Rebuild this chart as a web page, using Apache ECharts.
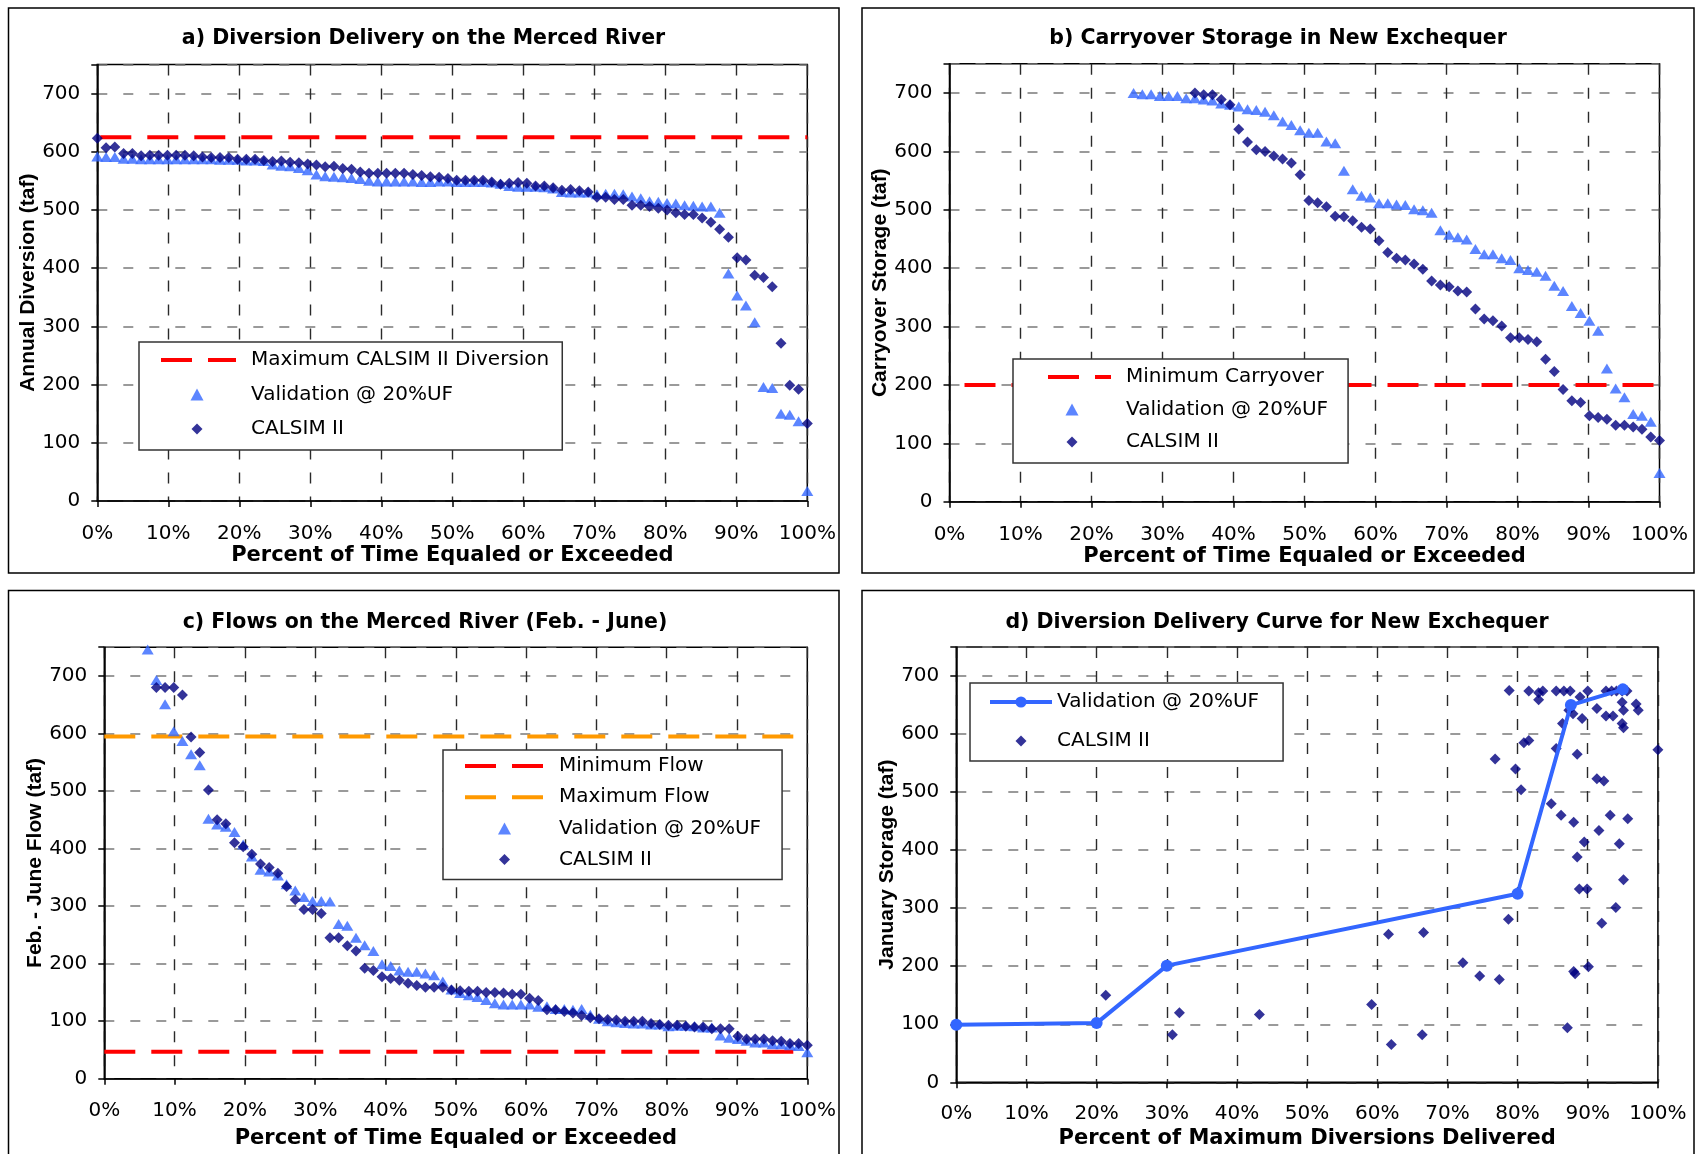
<!DOCTYPE html>
<html>
<head>
<meta charset="utf-8">
<script src="https://cdn.jsdelivr.net/npm/echarts@6/dist/echarts.min.js"></script>
<style>
html,body{margin:0;padding:0;background:#fff;}
#chart{width:1696px;height:1154px;}
</style>
</head>
<body>
<div id="chart"></div>
<script>
// ---------------- DATA ----------------
// Exceedance plots: 82 years, plotted at rank / (years-1) * 100 %
const nYears = 82;
const xTickLabels = ['0%','10%','20%','30%','40%','50%','60%','70%','80%','90%','100%'];
const yTickLabels = ['0','100','200','300','400','500','600','700'];

// a) Diversion Delivery on the Merced River (taf)
const aMaxDiversion = 625;
const aValidation = [592,591,591,588,588,587,587,587,587,587,587,587,587,587,586,586,586,585,585,584,
  578,576,575,572,568,561,558,557,556,555,553,550,549,549,549,549,549,548,548,549,549,548,548,
  548,548,547,545,541,540,540,540,539,537,531,530,530,530,527,528,528,527,523,520,515,514,512,511,508,507,506,506,
  495,391,353,336,307,196,194,150,148,137,17];
const aCalsim = [623,607,608,597,597,593,594,594,594,594,594,593,591,590,590,590,587,587,587,585,
  583,584,582,581,579,577,574,575,571,570,565,563,563,563,563,563,561,559,557,556,
  554,551,551,551,551,548,544,546,547,546,541,541,538,534,535,533,531,522,522,518,
  518,508,508,506,503,500,495,492,492,486,479,467,453,418,414,388,384,368,271,199,192,133];

// b) Carryover Storage in New Exchequer (taf) - first rank shown on the chart
const bMinCarryover = 200;
const bValidationStartRank = 21;
const bValidation = [700,698,698,695,695,695,691,691,689,687,682,680,677,672,671,668,662,651,645,636,
  632,632,617,614,567,535,524,521,511,511,509,508,501,499,495,465,457,453,449,433,
  424,424,417,414,400,397,394,387,370,361,335,323,310,293,228,194,179,150,147,137,49];
const bCalsimStartRank = 28;
const bCalsim = [700,697,697,689,680,638,616,603,600,592,587,580,560,516,512,505,489,488,481,470,
  467,447,427,417,414,407,398,378,371,368,361,359,330,313,310,301,281,281,278,274,
  244,223,192,173,170,147,144,141,131,131,128,124,111,105];

// c) Flows on the Merced River (Feb. - June) (taf)
const cMinFlow = 47;
const cMaxFlow = 595;
const cValidationStartRank = 5;
const cValidation = [746,693,651,604,587,564,545,452,442,438,429,407,386,363,360,353,338,327,316,309,
  309,308,269,266,245,232,222,199,196,188,186,186,183,180,169,155,149,145,142,137,
  131,129,129,129,129,125,126,121,121,120,121,111,104,100,98,97,96,96,94,94,
  91,92,92,91,89,89,75,71,69,66,63,63,60,60,58,57,46];
const cCalsimStartRank = 6;
const cCalsim = [680,680,680,667,594,567,502,450,443,410,403,390,373,367,357,334,311,294,294,287,
  245,245,231,222,192,188,177,174,171,166,162,159,159,159,154,153,152,152,150,150,
  149,147,147,140,136,120,120,117,114,110,106,104,103,102,100,100,100,96,94,93,
  93,91,90,90,87,87,87,74,69,69,69,66,65,61,61,58];

// d) Diversion Delivery Curve for New Exchequer
const dValidationPct = [0,20,30,80,87.6,95];
const dValidationStorage = [99,102,201,325,650,677];
const dCalsimPct = [21.3,30.8,31.8,43.2,59.2,61.6,62.0,66.6,66.4,72.2,74.6,77.4,76.8,78.7,78.8,79.7,80.5,80.9,81.6,81.6,
  83.0,83.0,83.6,85.5,86.6,87.5,88.9,90.0,92.6,93.4,94.1,94.9,95.6,94.9,95.1,96.9,97.2,91.3,92.6,93.6,
  94.9,95.1,87.3,87.9,89.2,86.4,85.5,88.5,100,84.8,86.2,88.0,93.2,95.7,91.3,92.3,91.6,89.5,94.5,88.5,
  95.1,88.8,89.9,94.0,92.0,90.1,88.0,88.2,87.1];
const dCalsimStorage = [150,82,120,117,134,255,65,258,82,206,183,177,557,281,675,540,504,585,589,674,
  671,659,674,674,674,674,664,674,674,674,674,674,674,655,641,652,641,644,631,631,
  618,611,641,635,627,618,575,565,573,480,460,448,460,454,523,519,434,414,411,388,
  349,333,333,301,274,199,191,187,94];

// ---------------- HELPERS ----------------
const FONT = 'DejaVu Sans';
const TRI = '#3366ff';
const NAVY = '#000080';
const RED = '#ff0000';
const ORANGE = '#ff9900';

// legend icons (bounding box fixed so they are not stretched across the icon box)
const ICON_TRI = 'path://M0,0M13,12M6.5,0L13,12L0,12Z';
const ICON_DIA = 'path://M0,0M12,12M6,0.5L11.5,6L6,11.5L0.5,6Z';
const ICON_DIA_D = 'path://M0,0M14,14M7,1.5L12.5,7L7,12.5L1.5,7Z';

function exceed(vals, startRank) {
  return vals.map((v, k) => [(startRank + k) * 100 / (nYears - 1), v]);
}
function flat(v) { return [[0, v], [100, v]]; }
function pairs(xs, ys) { return xs.map((x, i) => [x, ys[i]]); }

function xAx(gi, name, margin, gap) {
  return {
    gridIndex: gi, type: 'value', min: 0, max: 100, interval: 10,
    name: name, nameLocation: 'middle', nameGap: gap,
    nameTextStyle: {fontFamily: FONT, fontWeight: 'bold', fontSize: 21, color: '#000'},
    axisLine: {onZero: false, lineStyle: {color: '#000', width: 1.5}},
    axisTick: {show: true, length: 6, lineStyle: {color: '#000', width: 1.5}},
    axisLabel: {margin: margin, fontFamily: FONT, fontSize: 20, color: '#000',
      formatter: v => xTickLabels[Math.round(v / 10)]},
    splitLine: {show: true, lineStyle: {color: '#2a2a2a', width: 1.4, type: [11, 13]}}
  };
}
function yAx(gi, name, gap) {
  return {
    gridIndex: gi, type: 'value', min: 0, max: 750, interval: 100,
    name: name, nameLocation: 'middle', nameGap: gap,
    nameTextStyle: {fontFamily: 'Liberation Sans', fontWeight: 'bold', fontSize: 21, color: '#000'},
    axisLine: {onZero: false, lineStyle: {color: '#000', width: 1.5}},
    axisTick: {show: true, length: 6, lineStyle: {color: '#000', width: 1.5}},
    axisLabel: {margin: 17, fontFamily: FONT, fontSize: 20, color: '#000',
      formatter: v => (v > 700 ? '' : yTickLabels[Math.round(v / 100)])},
    splitLine: {show: true, lineStyle: {color: '#7a7a7a', width: 1.5, type: [10, 16]}}
  };
}
function gridBox(left, top, width, height) {
  return {left, top, width, height, show: true, borderColor: '#000', borderWidth: 1.5, backgroundColor: 'transparent'};
}
function dashLine(name, gi, value, color, offset) {
  return {name, type: 'line', xAxisIndex: gi, yAxisIndex: gi, data: flat(value), symbol: 'none',
    lineStyle: {color, width: 4, type: [31, 16], dashOffset: offset || 0}, itemStyle: {color}, z: 2, silent: true};
}
function tri(name, gi, data) {
  return {name, type: 'scatter', xAxisIndex: gi, yAxisIndex: gi, data, symbol: 'triangle', symbolSize: [12, 10],
    itemStyle: {color: TRI}, z: 3};
}
function dia(name, gi, data) {
  return {name, type: 'scatter', xAxisIndex: gi, yAxisIndex: gi, data, symbol: 'diamond', symbolSize: [11, 11],
    itemStyle: {color: NAVY}, z: 4};
}
function legendBox(left, top, padding, itemGap, itemWidth, itemHeight, textPad, names) {
  return {
    orient: 'vertical', left, top, padding, itemGap, itemWidth, itemHeight,
    symbolKeepAspect: true,
    borderColor: '#333', borderWidth: 1.5, backgroundColor: '#fff', borderRadius: 0,
    textStyle: {fontFamily: FONT, fontSize: 20, color: '#000', lineHeight: 24, padding: [0, 0, 0, textPad]},
    formatter: n => n.split('#')[0],
    data: names, selectedMode: false
  };
}
function dashItem(name) {
  return {name, itemStyle: {opacity: 0}, lineStyle: {width: 4, type: [31, 16]}};
}
function iconItem(name, icon) {
  return {name, icon};
}

const titleStyle = {fontFamily: FONT, fontWeight: 'bold', fontSize: 20.5, lineHeight: 24, color: '#000'};

const option = {
  animation: false,
  backgroundColor: '#fff',
  title: [
    {text: 'a) Diversion Delivery on the Merced River', left: 423.5, top: 27, textAlign: 'center', padding: 0, textStyle: titleStyle},
    {text: 'b) Carryover Storage in New Exchequer', left: 1278, top: 27, textAlign: 'center', padding: 0, textStyle: titleStyle},
    {text: 'c) Flows on the Merced River (Feb. - June)', left: 425, top: 611, textAlign: 'center', padding: 0, textStyle: titleStyle},
    {text: 'd) Diversion Delivery Curve for New Exchequer', left: 1277, top: 611, textAlign: 'center', padding: 0, textStyle: titleStyle}
  ],
  graphic: [
    {type: 'rect', shape: {x: 8.5, y: 8, width: 830.5, height: 565}, style: {fill: 'none', stroke: '#000', lineWidth: 1.5}, silent: true},
    {type: 'rect', shape: {x: 862, y: 8, width: 832, height: 565}, style: {fill: 'none', stroke: '#000', lineWidth: 1.5}, silent: true},
    {type: 'rect', shape: {x: 8.5, y: 590.5, width: 830.5, height: 620}, style: {fill: 'none', stroke: '#000', lineWidth: 1.5}, silent: true},
    {type: 'rect', shape: {x: 862, y: 590.5, width: 832, height: 620}, style: {fill: 'none', stroke: '#000', lineWidth: 1.5}, silent: true}
  ],
  grid: [
    gridBox(97.3, 64.4, 710, 436.6),
    gridBox(949.5, 63.8, 710, 437.9),
    gridBox(104.3, 647.2, 703, 431.5),
    gridBox(956.3, 647, 701.6, 435.3)
  ],
  xAxis: [
    xAx(0, 'Percent of Time Equaled or Exceeded', 23, 43),
    xAx(1, 'Percent of Time Equaled or Exceeded', 23, 43),
    xAx(2, 'Percent of Time Equaled or Exceeded', 22, 49),
    xAx(3, 'Percent of Maximum Diversions Delivered', 21, 46)
  ],
  yAxis: [
    yAx(0, 'Annual Diversion (taf)', 51),
    yAx(1, 'Carryover Storage (taf)', 49),
    yAx(2, 'Feb. - June Flow (taf)', 59),
    yAx(3, 'January Storage (taf)', 57)
  ],
  legend: [
    legendBox(139, 342, [6, 13, 9, 17], 10.5, 78, 12, 10,
      [dashItem('Maximum CALSIM II Diversion#a'), iconItem('Validation @ 20%UF#a', ICON_TRI), iconItem('CALSIM II#a', ICON_DIA)]),
    legendBox(1013, 359, [6, 20, 9, 18], 8.5, 78, 12, 10,
      [dashItem('Minimum Carryover#b'), iconItem('Validation @ 20%UF#b', ICON_TRI), iconItem('CALSIM II#b', ICON_DIA)]),
    legendBox(443, 750, [4, 21, 8, 20], 7.2, 79, 12, 10,
      [dashItem('Minimum Flow#c'), dashItem('Maximum Flow#c'), iconItem('Validation @ 20%UF#c', ICON_TRI), iconItem('CALSIM II#c', ICON_DIA)]),
    legendBox(970, 683, [7, 24, 8, 18], 15, 62, 14, 0,
      [{name: 'Validation @ 20%UF#d', lineStyle: {width: 4}}, iconItem('CALSIM II#d', ICON_DIA_D)])
  ],
  series: [
    dashLine('Maximum CALSIM II Diversion#a', 0, aMaxDiversion, RED, 44),
    tri('Validation @ 20%UF#a', 0, exceed(aValidation, 0)),
    dia('CALSIM II#a', 0, exceed(aCalsim, 0)),

    dashLine('Minimum Carryover#b', 1, bMinCarryover, RED, 32),
    tri('Validation @ 20%UF#b', 1, exceed(bValidation, bValidationStartRank)),
    dia('CALSIM II#b', 1, exceed(bCalsim, bCalsimStartRank)),

    dashLine('Minimum Flow#c', 2, cMinFlow, RED, 0),
    dashLine('Maximum Flow#c', 2, cMaxFlow, ORANGE, 0),
    tri('Validation @ 20%UF#c', 2, exceed(cValidation, cValidationStartRank)),
    dia('CALSIM II#c', 2, exceed(cCalsim, cCalsimStartRank)),

    {name: 'Validation @ 20%UF#d', type: 'line', xAxisIndex: 3, yAxisIndex: 3,
      data: pairs(dValidationPct, dValidationStorage), symbol: 'circle', symbolSize: 12, showSymbol: true,
      lineStyle: {color: TRI, width: 4}, itemStyle: {color: TRI}, z: 5},
    dia('CALSIM II#d', 3, pairs(dCalsimPct, dCalsimStorage))
  ]
};

const chart = echarts.init(document.getElementById('chart'), null, {renderer: 'canvas'});
chart.setOption(option);
</script>
</body>
</html>
